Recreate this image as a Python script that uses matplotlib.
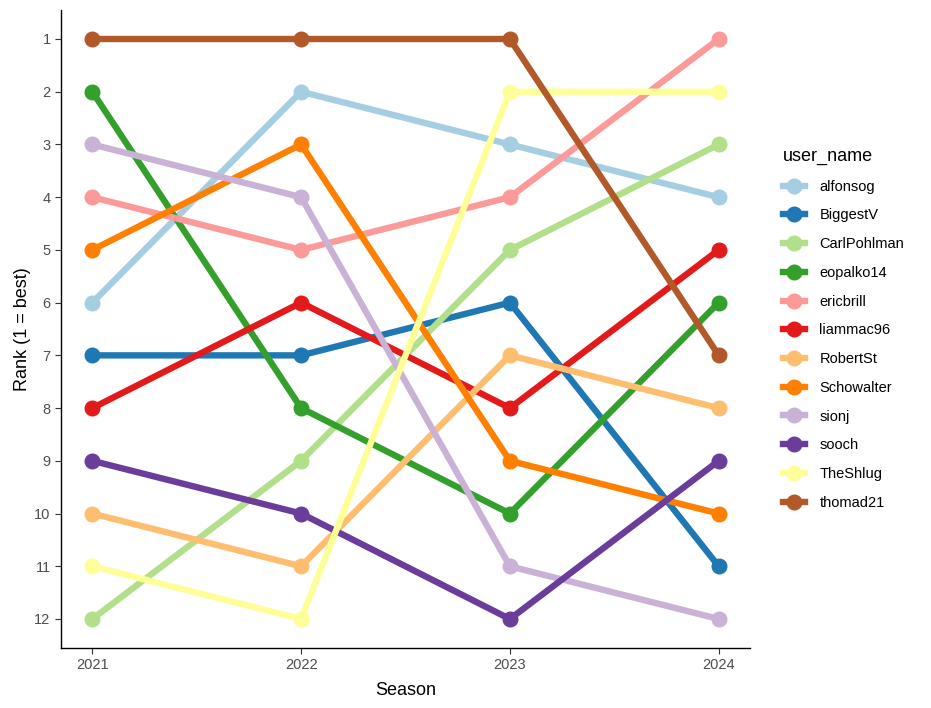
import matplotlib
matplotlib.use('Agg')
import matplotlib.pyplot as plt
from matplotlib.lines import Line2D

plt.rcParams['font.family'] = ['Liberation Sans', 'DejaVu Sans']

seasons = [2021, 2022, 2023, 2024]
users = ['alfonsog', 'BiggestV', 'CarlPohlman', 'eopalko14', 'ericbrill', 'liammac96',
         'RobertSt', 'Schowalter', 'sionj', 'sooch', 'TheShlug', 'thomad21']
ranks = {
    'alfonsog':    [6, 2, 3, 4],
    'BiggestV':    [7, 7, 6, 11],
    'CarlPohlman': [12, 9, 5, 3],
    'eopalko14':   [2, 8, 10, 6],
    'ericbrill':   [4, 5, 4, 1],
    'liammac96':   [8, 6, 8, 5],
    'RobertSt':    [10, 11, 7, 8],
    'Schowalter':  [5, 3, 9, 10],
    'sionj':       [3, 4, 11, 12],
    'sooch':       [9, 10, 12, 9],
    'TheShlug':    [11, 12, 2, 2],
    'thomad21':    [1, 1, 1, 7],
}
colors = ['#A6CEE3', '#1F78B4', '#B2DF8A', '#33A02C', '#FB9A99', '#E31A1C',
          '#FDBF6F', '#FF7F00', '#CAB2D6', '#6A3D9A', '#FFFF99', '#B15928']

fig = plt.figure(figsize=(9.31, 7.08), dpi=100)
ax = fig.add_axes([61 / 931, 60 / 708, 689 / 931, 638 / 708])

# lines first, then points on top (like geom_line + geom_point)
for u, c in zip(users, colors):
    ax.plot(seasons, ranks[u], color=c, lw=4.6, solid_capstyle='butt', zorder=2)
for u, c in zip(users, colors):
    ax.plot(seasons, ranks[u], 'o', color=c, ms=10.5, zorder=3)

ax.set_xlim(2021 - 0.15, 2024 + 0.15)
ax.set_ylim(12.55, 0.45)
ax.set_xticks(seasons)
ax.set_yticks(range(1, 13))
ax.tick_params(labelsize=10.5, labelcolor='#4D4D4D', color='#333333', length=4, width=0.8)
for s in ['top', 'right']:
    ax.spines[s].set_visible(False)
for s in ['left', 'bottom']:
    ax.spines[s].set_linewidth(1.0)
ax.set_xlabel('Season', fontsize=13, labelpad=7)
ax.set_ylabel('Rank (1 = best)', fontsize=13, labelpad=2)

handles = [Line2D([0], [0], color=c, lw=4.6, marker='o', ms=10.5) for c in colors]
leg = fig.legend(handles, users, loc='upper left', bbox_to_anchor=(777 / 931, 1 - 142 / 708),
                 frameon=False, title='user_name', fontsize=10.5, title_fontsize=13,
                 handlelength=1.5, handletextpad=1.0, labelspacing=1.01, borderaxespad=0)
leg._legend_box.align = 'left'

fig.savefig('out.png', dpi=100)
plt.close(fig)
